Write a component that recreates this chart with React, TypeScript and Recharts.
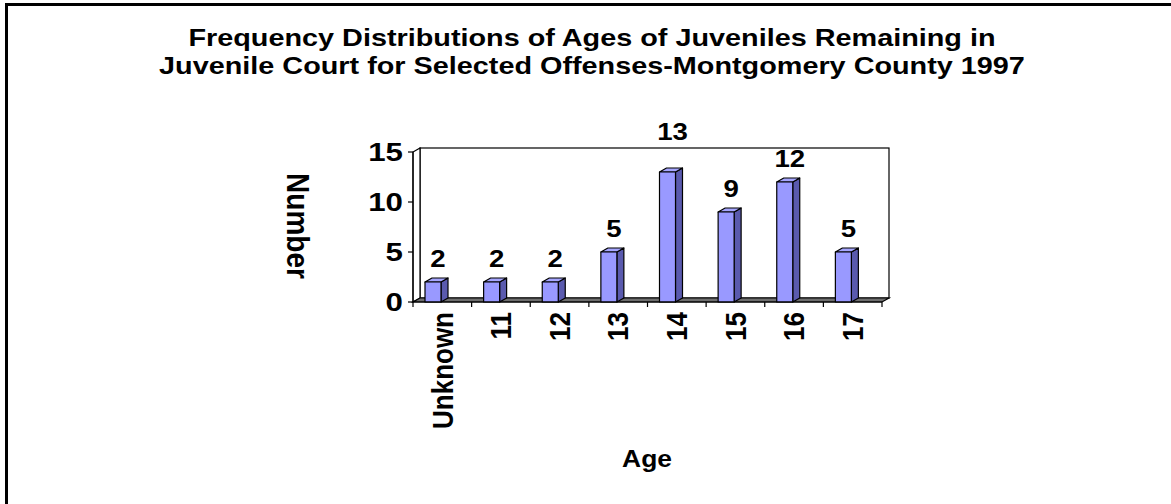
import { Bar, BarChart, LabelList, ReferenceArea, XAxis, YAxis } from "recharts";

const ages = ["Unknown", "11", "12", "13", "14", "15", "16", "17"];
const counts = [2, 2, 2, 5, 13, 9, 12, 5];
const yTicks = [0, 5, 10, 15];
const slotEdges = [0, 1, 2, 3, 4, 5, 6, 7, 8];

const data = ages.map((age, i) => ({ age, value: counts[i], slot: i + 0.5 }));

const FONT = "'Liberation Sans', Arial, sans-serif";
const DX = 7;
const DY = 4;
const SHIFT = -9;
const PLOT_TOP = 152;

function Bar3D(props: any) {
  const { x, y, width, height } = props;
  if (height <= 0) return null;
  const fx = x + SHIFT;
  const b = y + height;
  return (
    <g stroke="#000" strokeWidth={1.2} strokeLinejoin="round">
      <polygon
        points={`${fx + width},${y} ${fx + width + DX},${y - DY} ${fx + width + DX},${b - DY} ${fx + width},${b}`}
        fill="#5a5aae"
      />
      <polygon
        points={`${fx},${y} ${fx + DX},${y - DY} ${fx + width + DX},${y - DY} ${fx + width},${y}`}
        fill="#a6a6ff"
      />
      <rect x={fx} y={y} width={width} height={height} fill="#9999ff" />
    </g>
  );
}

function Walls(props: any) {
  const { x, y, width, height } = props;
  const r = x + width;
  const b = y + height;
  return (
    <g stroke="#000" strokeWidth={1.2}>
      <rect x={x + DX} y={y - DY} width={width} height={height} fill="#fff" />
      <polygon points={`${x},${y} ${x + DX},${y - DY} ${x + DX},${b - DY} ${x},${b}`} fill="#fff" />
      <polygon points={`${x},${b} ${r},${b} ${r + DX},${b - DY} ${x + DX},${b - DY}`} fill="#6e6e6e" />
    </g>
  );
}

function AgeTick(props: any) {
  const { x, y, payload } = props;
  return (
    <text
      transform={`translate(${x},${y}) rotate(-90) scale(1,1.1)`}
      textAnchor="end"
      dy="0.36em"
      fontFamily={FONT}
      fontWeight="bold"
      fontSize={26}
      fill="#000"
    >
      {payload.value}
    </text>
  );
}

function CountTick(props: any) {
  const { x, y, payload } = props;
  return (
    <text
      transform={`translate(${x - 3},${y}) scale(1.25,1)`}
      textAnchor="end"
      dy="0.36em"
      fontFamily={FONT}
      fontWeight="bold"
      fontSize={25}
      fill="#000"
    >
      {payload.value}
    </text>
  );
}

function ValueLabel(props: any) {
  const { x, y, width, value } = props;
  const wallTop = PLOT_TOP - DY;
  let base = y - 15;
  // keep the label clear of the top edge of the back wall
  if (base > wallTop && base - 17 < wallTop) base = wallTop - 8;
  return (
    <text
      transform={`translate(${x + width / 2 + SHIFT + 5},${base}) scale(1.2,1)`}
      textAnchor="middle"
      fontFamily={FONT}
      fontWeight="bold"
      fontSize={23}
      fill="#000"
    >
      {value}
    </text>
  );
}

export default function App() {
  return (
    <div style={{ position: "absolute", left: 0, top: 0, width: 1171, height: 504, background: "#fff", fontFamily: FONT }}>
      <div style={{ position: "absolute", left: 5, top: 3, width: 1166, height: 3, background: "#000" }} />
      <div style={{ position: "absolute", left: 5, top: 3, width: 3, height: 501, background: "#000" }} />
      <div
        style={{
          position: "absolute",
          left: 0,
          width: 1184,
          top: 24,
          textAlign: "center",
          fontWeight: "bold",
          fontSize: 24,
          lineHeight: "28px",
          color: "#000",
          transform: "scaleX(1.2)",
          transformOrigin: "592px 0",
        }}
      >
        Frequency Distributions of Ages of Juveniles Remaining in
        <br />
        Juvenile Court for Selected Offenses-Montgomery County 1997
      </div>
      <div
        style={{
          position: "absolute",
          left: 297,
          top: 226,
          transform: "translate(-50%,-50%) rotate(90deg) scaleY(1.1)",
          fontWeight: "bold",
          fontSize: 28,
          whiteSpace: "nowrap",
          color: "#000",
        }}
      >
        Number
      </div>
      <div
        style={{
          position: "absolute",
          left: 647,
          top: 459,
          transform: "translate(-50%,-50%) scaleX(1.1)",
          fontWeight: "bold",
          fontSize: 24,
          color: "#000",
        }}
      >
        Age
      </div>
      <div style={{ position: "absolute", left: 0, top: 0 }}>
        <BarChart
          width={1171}
          height={504}
          data={data}
          margin={{ top: PLOT_TOP, right: 289, bottom: 102, left: 353 }}
          barSize={16}
        >
          <XAxis
            xAxisId="b"
            dataKey="age"
            height={90}
            axisLine={false}
            tickLine={false}
            tickSize={0}
            tickMargin={0}
            tick={<AgeTick />}
            interval={0}
          />
          <XAxis
            xAxisId="a"
            type="number"
            dataKey="slot"
            domain={[0, 8]}
            ticks={slotEdges}
            height={10}
            axisLine={{ stroke: "#000", strokeWidth: 1.2 }}
            tickLine={{ stroke: "#000", strokeWidth: 1.2 }}
            tickSize={5}
            tickFormatter={() => ""}
            allowDataOverflow
          />
          <YAxis
            width={60}
            domain={[0, 15]}
            ticks={yTicks}
            axisLine={{ stroke: "#000", strokeWidth: 1.2 }}
            tickLine={{ stroke: "#000", strokeWidth: 1.2 }}
            tickSize={5}
            tick={<CountTick />}
            tickMargin={2}
          />
          <ReferenceArea xAxisId="b" y1={0} y2={15} shape={<Walls />} ifOverflow="visible" />
          <Bar xAxisId="b" dataKey="value" shape={<Bar3D />} isAnimationActive={false}>
            <LabelList dataKey="value" content={<ValueLabel />} />
          </Bar>
        </BarChart>
      </div>
    </div>
  );
}
